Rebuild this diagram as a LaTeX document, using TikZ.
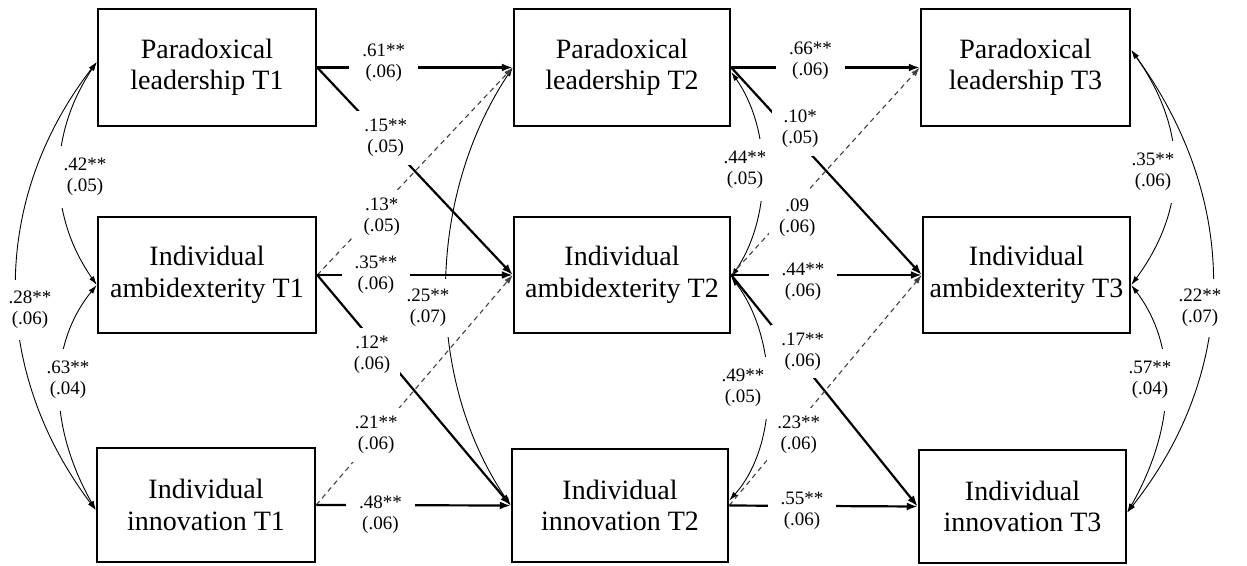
\documentclass[tikz,border=0pt]{standalone}
\usepackage{fontspec}
\setmainfont{Liberation Serif}
\usetikzlibrary{arrows.meta}
\tikzset{
  box/.style={draw, line width=2.5pt, inner sep=0pt, align=center, font=\fontsize{28}{31.5}\selectfont},
  reg/.style={line width=2.2pt, -{Latex[length=11pt,width=8pt]}},
  dsh/.style={line width=1.1pt, black!75, dash pattern=on 5pt off 4pt, -{Latex[length=9pt,width=6pt]}},
  cov/.style={line width=0.9pt, {Latex[length=9pt,width=5.5pt]}-{Latex[length=9pt,width=5.5pt]}},
  lbl/.style={fill=white, align=center, inner xsep=10pt, inner ysep=8pt, font=\fontsize{19}{21}\selectfont},
  hlbl/.style={lbl, inner xsep=13pt},
  clbl/.style={fill=white, align=center, font=\fontsize{19}{21}\selectfont},
}
\begin{document}
\begin{tikzpicture}[x=1pt,y=-1pt]
\useasboundingbox (0,0) rectangle (1247,565);
% boxes
\node[box,minimum width=218pt,minimum height=117pt] (PL1) at (207,67.5) {Paradoxical\\leadership T1};
\node[box,minimum width=218pt,minimum height=116pt] (IA1) at (207,275) {Individual\\ambidexterity T1};
\node[box,minimum width=218pt,minimum height=114pt] (II1) at (206,505) {Individual\\innovation T1};
\node[box,minimum width=216pt,minimum height=117pt] (PL2) at (622,67.5) {Paradoxical\\leadership T2};
\node[box,minimum width=216pt,minimum height=116pt] (IA2) at (622,275) {Individual\\ambidexterity T2};
\node[box,minimum width=216pt,minimum height=113pt] (II2) at (620,505.5) {Individual\\innovation T2};
\node[box,minimum width=209pt,minimum height=117pt] (PL3) at (1025.5,67.5) {Paradoxical\\leadership T3};
\node[box,minimum width=207pt,minimum height=116pt] (IA3) at (1026.5,275) {Individual\\ambidexterity T3};
\node[box,minimum width=207pt,minimum height=113pt] (II3) at (1022.5,506.5) {Individual\\innovation T3};

% covariances
\draw[cov] ([yshift=5.5pt]PL1.west) .. controls (48,135) and (48,215) .. ([yshift=-10pt]IA1.west);
\draw[cov] ([yshift=-10pt]IA1.west) .. controls (48,345) and (48,425) .. ([yshift=-5pt]II1.west);
\draw[cov] ([yshift=5.5pt]PL1.west) .. controls (-10,200) and (-10,370) .. ([yshift=-5pt]II1.west);
\draw[cov] (PL2.west) .. controls (425,200) and (425,380) .. (II2.west);
\draw[cov] ([yshift=-4.5pt]PL2.east) .. controls (772,130) and (772,217) .. ([yshift=-2pt]IA2.east);
\draw[cov] ([yshift=-2pt]IA2.east) .. controls (779,340) and (779,445) .. ([yshift=5pt]II2.east);
\draw[cov] ([yshift=17.5pt]PL3.east) .. controls (1188,130) and (1188,208) .. ([yshift=-10pt]IA3.east);
\draw[cov] ([yshift=-10pt]IA3.east) .. controls (1177,345) and (1177,425) .. ([yshift=-6pt]II3.east);
\draw[cov] ([yshift=17.5pt]PL3.east) .. controls (1240,200) and (1240,370) .. ([yshift=-6pt]II3.east);

% T1 -> T2
\draw[reg] (PL1.east) -- coordinate[pos=0.34] (c1) (PL2.west);
\draw[reg] (PL1.east) -- coordinate[pos=0.35] (c2) (IA2.west);
\draw[dsh] (IA1.east) -- coordinate[pos=0.33] (c3) (PL2.west);
\draw[reg] (IA1.east) -- coordinate[pos=0.30] (c4) (IA2.west);
\draw[reg] (IA1.east) -- coordinate[pos=0.345] (c5) (II2.west);
\draw[dsh] (II1.east) -- coordinate[pos=0.305] (c6) (IA2.west);
\draw[reg] (II1.east) -- coordinate[pos=0.33] (c7) (II2.west);
% T2 -> T3
\draw[reg] (PL2.east) -- coordinate[pos=0.42] (c8) (PL3.west);
\draw[reg] (PL2.east) -- coordinate[pos=0.33] (c9) (IA3.west);
\draw[dsh] (IA2.east) -- coordinate[pos=0.35] (c10) (PL3.west);
\draw[reg] (IA2.east) -- coordinate[pos=0.377] (c11) (IA3.west);
\draw[reg] (IA2.east) -- coordinate[pos=0.33] (c12) (II3.west);
\draw[dsh] (II2.east) -- coordinate[pos=0.33] (c13) (IA3.west);
\draw[reg] (II2.east) -- coordinate[pos=0.386] (c14) (II3.west);

% path labels
\node[hlbl] (l1) at ([yshift=5pt]c1) {.61**\\(.06)};
\node[lbl] (l2) at ([yshift=2pt]c2) {.15**\\(.05)};
\node[lbl] (l3) at ([yshift=-10pt]c3) {.13*\\(.05)};
\node[hlbl] (l4) at (c4) {.35**\\(.06)};
\node[lbl] (l5) at ([xshift=-12pt]c5) {.12*\\(.06)};
\node[lbl] (l6) at (c6) {.21**\\(.06)};
\node[hlbl] (l7) at ([yshift=-10pt]c7) {.48**\\(.06)};
\node[hlbl] (l8) at ([yshift=7pt]c8) {.66**\\(.06)};
\node[lbl] (l9) at ([xshift=6pt,yshift=7pt]c9) {.10*\\(.05)};
\node[lbl] (l10) at ([yshift=-15pt]c10) {.09\\(.06)};
\node[hlbl] (l11) at ([yshift=-7pt]c11) {.44**\\(.06)};
\node[lbl] (l12) at ([xshift=10pt]c12) {.17**\\(.06)};
\node[lbl] (l13) at ([xshift=6pt,yshift=-5pt]c13) {.23**\\(.06)};
\node[hlbl] (l14) at ([yshift=-5pt]c14) {.55**\\(.06)};

% covariance labels
\node[clbl,inner xsep=9pt,inner ysep=12pt] (k42) at (85,177) {.42**\\(.05)};
\node[clbl,inner xsep=6pt,inner ysep=11pt] (k28) at (30,310) {.28**\\(.06)};
\node[clbl,inner xsep=4pt,inner ysep=12pt] (k63) at (68,380) {.63**\\(.04)};
\node[clbl,inner xsep=6pt,inner ysep=10pt] (k25) at (428,308) {.25**\\(.07)};
\node[clbl,inner xsep=5pt,inner ysep=12pt] (k44) at (745,170) {.44**\\(.05)};
\node[clbl,inner xsep=6pt,inner ysep=12pt] (k49) at (743,388) {.49**\\(.05)};
\node[clbl,inner xsep=5pt,inner ysep=12pt] (k35) at (1153,172) {.35**\\(.06)};
\node[clbl,inner xsep=4pt,inner ysep=12pt] (k57) at (1150,380) {.57**\\(.04)};
\node[clbl,inner xsep=5pt,inner ysep=10pt] (k22) at (1200,308) {.22**\\(.07)};
\end{tikzpicture}
\end{document}
